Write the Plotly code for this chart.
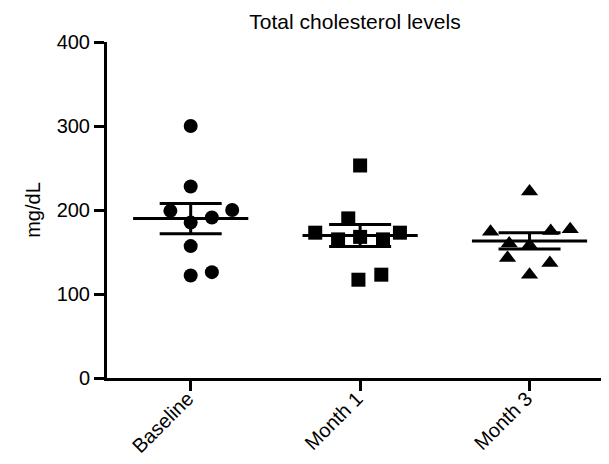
import numpy as np
import plotly.graph_objects as go

categories = ["Baseline", "Month 1", "Month 3"]
baseline = [300, 228, 199, 200, 191, 185, 157, 122, 126]
month1 = [253, 190, 173, 173, 165, 168, 165, 117, 123]
month3 = [222, 174, 177, 175, 160, 158, 143, 137, 123]
# horizontal scatter offsets (category units) mimicking the jittered layout
jitter_b = [0, 0, -0.12, 0.245, 0.125, 0, 0, 0, 0.125]
jitter_m1 = [0, -0.07, -0.265, 0.235, -0.13, 0, 0.135, -0.01, 0.125]
jitter_m3 = [0, -0.23, 0.24, 0.125, -0.12, 0, -0.13, 0.12, 0]
y_ticks = [0, 100, 200, 300, 400]

series = [baseline, month1, month3]
jitters = [jitter_b, jitter_m1, jitter_m3]
symbols = ["circle", "square", "triangle-up"]
MEAN_HALF = 0.34

fig = go.Figure()
for i, (vals, jit, sym) in enumerate(zip(series, jitters, symbols)):
    fig.add_trace(go.Scatter(
        x=[i + j for j in jit], y=vals, mode="markers",
        marker=dict(symbol=sym, size=14 if sym != "triangle-up" else 15, color="black"),
        showlegend=False, hoverinfo="y"))

means = [float(np.mean(v)) for v in series]
sems = [float(np.std(v, ddof=1) / np.sqrt(len(v))) for v in series]
for i, (m, s) in enumerate(zip(means, sems)):
    fig.add_trace(go.Scatter(
        x=[i - MEAN_HALF, i + MEAN_HALF], y=[m, m], mode="lines",
        line=dict(color="black", width=3), showlegend=False, hoverinfo="skip"))
fig.add_trace(go.Scatter(
    x=list(range(len(categories))), y=means, mode="markers",
    marker=dict(size=1, color="black", opacity=0),
    error_y=dict(type="data", array=sems, visible=True, color="black",
                 thickness=3, width=31),
    showlegend=False, hoverinfo="y"))

font_family = "Liberation Sans, Arial, sans-serif"
W, H = 601, 456
fig.update_layout(
    width=W, height=H,
    margin=dict(l=99, r=0, t=34, b=86),
    paper_bgcolor="white", plot_bgcolor="white",
    font=dict(family=font_family, color="black", size=20),
    title=dict(text="Total cholesterol levels", x=347 / W, xanchor="center",
               y=1 - 14 / H, yanchor="middle", font=dict(size=21, color="black")),
    xaxis=dict(
        range=[-0.494, 2.469], tickmode="array",
        tickvals=list(range(len(categories))), ticktext=categories,
        tickangle=-45, ticks="outside", ticklen=10, tickwidth=3, tickcolor="black",
        showline=True, linewidth=3, linecolor="black", showgrid=False, zeroline=False,
        tickfont=dict(size=20), ticklabelstandoff=-12, ticklabelshift=-3),
    yaxis=dict(
        range=[0, 400], tickmode="array", tickvals=y_ticks,
        ticks="outside", ticklen=10, tickwidth=3, tickcolor="black",
        showline=True, linewidth=3, linecolor="black", showgrid=False, zeroline=False,
        title=dict(text="mg/dL", font=dict(size=20), standoff=11),
        tickfont=dict(size=20)),
)

fig.write_html("out.html")
